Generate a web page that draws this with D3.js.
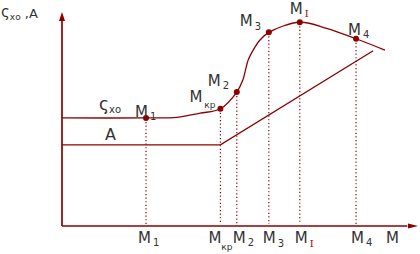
<!DOCTYPE html>
<html lang="ru">
<head>
<meta charset="utf-8">
<title>Sxo, A</title>
<script src="https://cdn.jsdelivr.net/npm/d3@7"></script>
<style>
  body { margin: 0; background: #fff; }
  svg { display: block; font-family: "DejaVu Sans", Verdana, sans-serif; }
</style>
</head>
<body>
<script>
// точки на кривой Sxo
const pointNames = ["M1", "Mkp", "M2", "M3", "MI", "M4"];
const pointMain  = ["M", "M", "M", "M", "M", "M"];
const pointSub   = ["1", "кр", "2", "3", "I", "4"];
const pointX     = [23.6, 44.5, 49.1, 58.1, 66.8, 82.6];
const pointY     = [50.5, 54.8, 62.6, 90.5, 95.2, 87.5];

// кривая Sxo
const sxoX = [0, 23.6, 32.3, 38.8, 44.5, 49.1, 50.8, 52.3, 53.7, 55.6, 58.1, 66.8, 74.3, 82.6, 90.7];
const sxoY = [50.5, 50.5, 50.8, 52.7, 54.8, 62.6, 68.2, 77.6, 82.2, 86.9, 90.5, 95.2, 92.4, 87.5, 82.2];

// линия A
const aX = [0, 44.5, 87.4];
const aY = [37.9, 37.9, 81.9];

const width = 420, height = 254;
const dark = "#8b0000";
const textColor = "#333";

const x = d3.scaleLinear().domain([0, 100]).range([62, 418]);
const y = d3.scaleLinear().domain([0, 100]).range([226, 12]);

const svg = d3.select("body").append("svg")
  .attr("width", width)
  .attr("height", height)
  .attr("viewBox", [0, 0, width, height]);

// оси
svg.append("line")
  .attr("x1", x(0)).attr("y1", y(0))
  .attr("x2", x(0)).attr("y2", y(96))
  .attr("stroke", dark).attr("stroke-width", 1.7);
svg.append("path")
  .attr("d", `M${x(0)},${y(100)} L${x(0) + 3},${y(100) + 9} L${x(0) - 3},${y(100) + 9} Z`)
  .attr("fill", dark);

svg.append("line")
  .attr("x1", x(0)).attr("y1", y(0))
  .attr("x2", x(97)).attr("y2", y(0))
  .attr("stroke", dark).attr("stroke-width", 1.4);
svg.append("path")
  .attr("d", `M${x(100)},${y(0)} L${x(100) - 10},${y(0) - 2.5} L${x(100) - 10},${y(0) + 2.5} Z`)
  .attr("fill", dark);

// пунктирные вертикали
svg.append("g")
  .selectAll("line")
  .data(pointX)
  .join("line")
  .attr("x1", d => x(d)).attr("x2", d => x(d))
  .attr("y1", (d, i) => y(pointY[i]) + 4)
  .attr("y2", y(0) - 2)
  .attr("stroke", dark)
  .attr("stroke-width", 1.2)
  .attr("stroke-dasharray", "1.2,2.4");

// линия A
const lineA = d3.line().x(d => x(d[0])).y(d => y(d[1]));
svg.append("path")
  .attr("d", lineA(aX.map((v, i) => [v, aY[i]])))
  .attr("fill", "none")
  .attr("stroke", dark)
  .attr("stroke-width", 1.3);

// кривая Sxo
const lineS = d3.line().x(d => x(d[0])).y(d => y(d[1])).curve(d3.curveCatmullRom.alpha(0.5));
svg.append("path")
  .attr("d", lineS(sxoX.map((v, i) => [v, sxoY[i]])))
  .attr("fill", "none")
  .attr("stroke", dark)
  .attr("stroke-width", 1.3);

// точки
svg.append("g")
  .selectAll("circle")
  .data(pointX)
  .join("circle")
  .attr("cx", d => x(d))
  .attr("cy", (d, i) => y(pointY[i]))
  .attr("r", 3)
  .attr("fill", dark);

function label(px, py, main, sub, size, subSize, subDy, subDx) {
  const t = svg.append("text")
    .attr("x", px).attr("y", py)
    .attr("fill", textColor)
    .style("font-size", size + "px");
  t.append("tspan").text(main);
  t.append("tspan")
    .attr("dx", subDx)
    .attr("dy", subDy)
    .style("font-size", subSize + "px")
    .attr("fill", sub === "I" ? "#b00000" : textColor)
    .style("font-family", sub === "I" ? "'DejaVu Serif', serif" : null)
    .text(sub);
  return t;
}

// подписи у точек
const topOffset = { M1: [-11, -1, 3], Mkp: [-31, -7, 6], M2: [-29, -6, 3], M3: [-29, -6, 4], MI: [-10, -8, 3], M4: [-8, -4, 3] };
const bottomOffset = { M1: [-8, 3], Mkp: [-12, 7], M2: [-4, 3], M3: [-6, 4], MI: [-5, 4], M4: [-5, 3] };

pointNames.forEach((n, i) => {
  const o = topOffset[n];
  label(x(pointX[i]) + o[0], y(pointY[i]) + o[1], pointMain[i], pointSub[i], 15, n === "Mkp" ? 9 : 10, o[2], 2);
  const b = bottomOffset[n];
  label(x(pointX[i]) + b[0], 243, pointMain[i], pointSub[i], 15, n === "Mkp" ? 9 : 10, b[1], n === "Mkp" ? 0 : 2);
});

// M у оси
svg.append("text")
  .attr("x", 386).attr("y", 243)
  .attr("fill", textColor)
  .style("font-size", "15px")
  .text("M");

// подписи линий
label(99, 110, "ς", "хо", 17, 10, 3, 0);
svg.append("text")
  .attr("x", 105).attr("y", 140)
  .attr("fill", textColor)
  .style("font-size", "16px")
  .text("A");

// подпись оси Y
const yl = label(1, 17, "ς", "хо", 15, 9, 3, 0);
yl.append("tspan").attr("dy", -2).style("font-size", "13px").text(" ,A");
</script>
</body>
</html>
